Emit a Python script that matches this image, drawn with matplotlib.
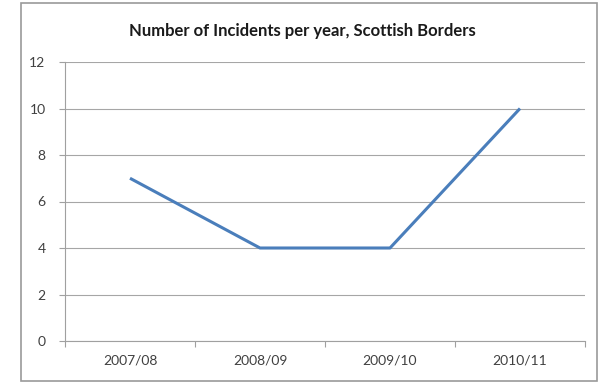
import numpy as np
import matplotlib.pyplot as plt
from matplotlib.patches import Rectangle

years = ['2007/08', '2008/09', '2009/10', '2010/11']
incidents = [7, 4, 4, 10]
y_ticks = [0, 2, 4, 6, 8, 10, 12]

plt.rcParams['font.family'] = ['Lato', 'DejaVu Sans']

fig = plt.figure(figsize=(6.01, 3.82), dpi=100)
fig.patch.set_facecolor('white')

# outer chart frame
fig.patches.append(Rectangle((21 / 601, 1 / 382), 576 / 601, 378 / 382,
                             transform=fig.transFigure, fill=False,
                             edgecolor='#9a9a9a', linewidth=1.2))

ax = fig.add_axes([65 / 601, 41 / 382, 520 / 601, 279 / 382])
x = np.arange(len(years))
ax.plot(x, incidents, color='#4a7ebb', linewidth=2.2, solid_capstyle='butt')

ax.set_xlim(-0.5, len(years) - 0.5)
ax.set_ylim(0, 12)
ax.set_yticks(y_ticks)
ax.set_xticks(x)
ax.set_xticklabels(years)
ax.set_xticks(np.arange(len(years) + 1) - 0.5, minor=True)

ax.grid(axis='y', color='#a6a6a6', linewidth=0.8)
ax.set_axisbelow(True)
for side in ['top', 'right']:
    ax.spines[side].set_visible(False)
for side in ['left', 'bottom']:
    ax.spines[side].set_color('#a0a0a0')
    ax.spines[side].set_linewidth(0.8)

ax.tick_params(axis='x', which='major', length=0, pad=10,
               labelsize=10, labelcolor='#404040')
ax.tick_params(axis='x', which='minor', length=4, color='#a0a0a0', width=0.8)
ax.tick_params(axis='y', length=4, color='#a0a0a0', width=0.8, pad=10,
               labelsize=10, labelcolor='#404040')

fig.text(302 / 601, 1 - 31 / 382, 'Number of Incidents per year, Scottish Borders',
         ha='center', va='center', fontsize=12, fontweight='bold', color='#1a1a1a')

fig.savefig('out.png', dpi=100)
